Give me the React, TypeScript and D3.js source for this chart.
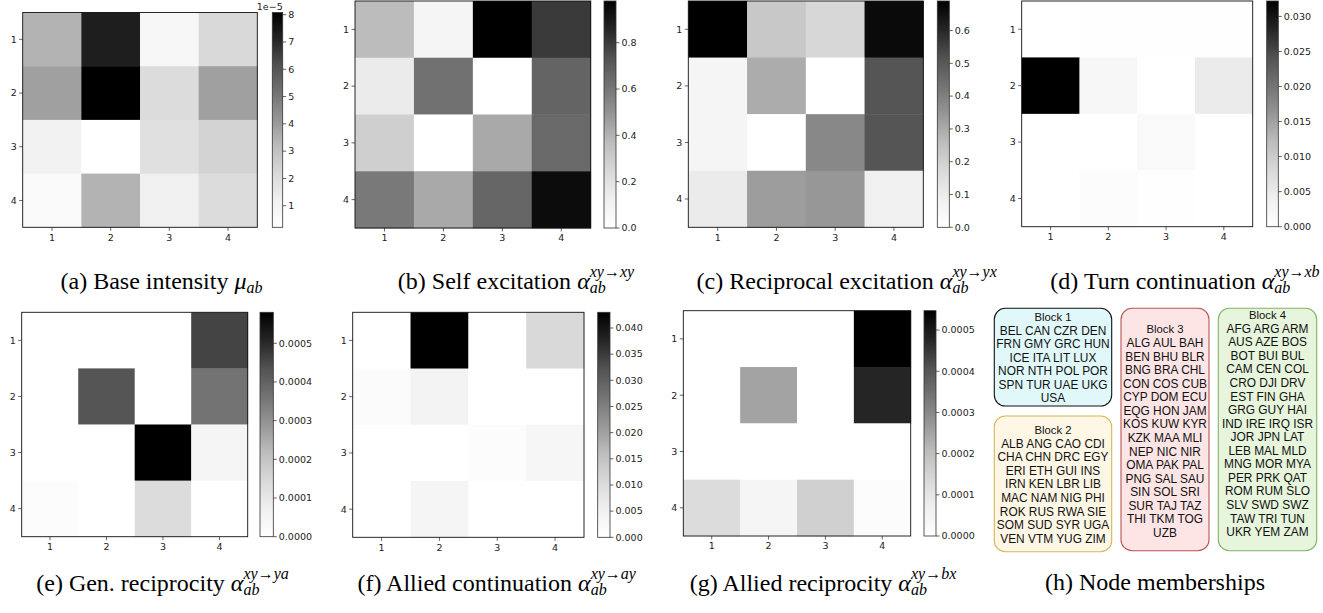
import * as d3 from 'd3'

// block labels on both axes
const rowLabels = ['1', '2', '3', '4']
const colLabels = ['1', '2', '3', '4']

// (a) base intensity mu_ab
const baseIntensity = [
  [3.41e-5, 7.29e-5, 0.74e-5, 2.18e-5],
  [3.89e-5, 8.08e-5, 2.05e-5, 3.89e-5],
  [1.06e-5, 0.21e-5, 1.88e-5, 2.39e-5],
  [0.6e-5, 3.41e-5, 1.19e-5, 2.05e-5],
]
const baseTicks = [1e-5, 2e-5, 3e-5, 4e-5, 5e-5, 6e-5, 7e-5, 8e-5]

// (b) self excitation
const selfExcitation = [
  [0.37, 0.08, 0.98, 0.8],
  [0.15, 0.62, 0.0, 0.67],
  [0.29, 0.0, 0.43, 0.65],
  [0.59, 0.43, 0.66, 0.94],
]
const selfTicks = [0, 0.2, 0.4, 0.6, 0.8]

// (c) reciprocal excitation
const reciprocalExcitation = [
  [0.69, 0.225, 0.18, 0.667],
  [0.057, 0.297, 0.0, 0.51],
  [0.057, 0.0, 0.38, 0.51],
  [0.105, 0.33, 0.343, 0.086],
]
const reciprocalTicks = [0, 0.1, 0.2, 0.3, 0.4, 0.5, 0.6]

// (d) turn continuation
const turnContinuation = [
  [0.0, 0.0003, 0.0002, 0.0002],
  [0.0322, 0.0021, 0.0, 0.0049],
  [0.0, 0.0, 0.0016, 0.0],
  [0.0, 0.0008, 0.0002, 0.0],
]
const turnTicks = [0, 0.005, 0.01, 0.015, 0.02, 0.025, 0.03]

// (e) generalized reciprocity
const genReciprocity = [
  [0.0, 0.0, 0.0, 0.000458],
  [0.0, 0.000429, 0.0, 0.000363],
  [0.0, 0.0, 0.00058, 0.000048],
  [0.0000145, 0.0, 0.000136, 0.0],
]
const genTicks = [0, 0.0001, 0.0002, 0.0003, 0.0004, 0.0005]

// (f) allied continuation
const alliedContinuation = [
  [0.0, 0.043, 0.0, 0.01075],
  [0.0014, 0.0043, 0.0, 0.0],
  [0.0, 0.0, 0.0011, 0.0032],
  [0.0, 0.0036, 0.0, 0.0],
]
const alliedContTicks = [0, 0.005, 0.01, 0.015, 0.02, 0.025, 0.03, 0.035, 0.04]

// (g) allied reciprocity
const alliedReciprocity = [
  [0.0, 0.0, 0.0, 0.000547],
  [0.0, 0.00025, 0.0, 0.000479],
  [0.0, 0.0, 0.0, 0.0],
  [0.000128, 0.0000454, 0.000159, 0.0000137],
]
const alliedRecTicks = [0, 0.0001, 0.0002, 0.0003, 0.0004, 0.0005]

// (h) node memberships
const block1 = ['BEL CAN CZR DEN', 'FRN GMY GRC HUN', 'ICE ITA LIT LUX', 'NOR NTH POL POR', 'SPN TUR UAE UKG', 'USA']
const block2 = ['ALB ANG CAO CDI', 'CHA CHN DRC EGY', 'ERI ETH GUI INS', 'IRN KEN LBR LIB', 'MAC NAM NIG PHI', 'ROK RUS RWA SIE', 'SOM SUD SYR UGA', 'VEN VTM YUG ZIM']
const block3 = ['ALG AUL BAH', 'BEN BHU BLR', 'BNG BRA CHL', 'CON COS CUB', 'CYP DOM ECU', 'EQG HON JAM', 'KOS KUW KYR', 'KZK MAA MLI', 'NEP NIC NIR', 'OMA PAK PAL', 'PNG SAL SAU', 'SIN SOL SRI', 'SUR TAJ TAZ', 'THI TKM TOG', 'UZB']
const block4 = ['AFG ARG ARM', 'AUS AZE BOS', 'BOT BUI BUL', 'CAM CEN COL', 'CRO DJI DRV', 'EST FIN GHA', 'GRG GUY HAI', 'IND IRE IRQ ISR', 'JOR JPN LAT', 'LEB MAL MLD', 'MNG MOR MYA', 'PER PRK QAT', 'ROM RUM SLO', 'SLV SWD SWZ', 'TAW TRI TUN', 'UKR YEM ZAM']

// matplotlib "Greys"
const greysRamp = ['#ffffff', '#f0f0f0', '#d9d9d9', '#bdbdbd', '#969696', '#737373', '#525252', '#252525', '#000000']
const greys = d3.scaleLinear<string>()
  .domain(d3.range(9).map(i => i / 8))
  .range(greysRamp)
  .interpolate(d3.interpolateRgb)

const tickFont = "'DejaVu Sans', sans-serif"
const captionFont = "'Liberation Serif', 'Times New Roman', serif"

interface HeatmapProps {
  id: string
  values: number[][]
  ticks: number[]
  format: (v: number) => string
  x0: number
  x1: number
  y0: number
  y1: number
  cb0: number
  cb1: number
  offsetText?: string
}

function Heatmap({ id, values, ticks, format, x0, x1, y0, y1, cb0, cb1, offsetText }: HeatmapProps) {
  const x = d3.scaleBand().domain(colLabels).range([x0, x1])
  const y = d3.scaleBand().domain(rowLabels).range([y0, y1])
  const ext = d3.extent(values.flat()) as [number, number]
  const norm = d3.scaleLinear().domain(ext).range([0, 1]).clamp(true)
  const cbY = d3.scaleLinear().domain(ext).range([y1, y0])

  return (
    <g>
      <defs>
        <linearGradient id={`grad-${id}`} x1="0" y1="1" x2="0" y2="0">
          {greysRamp.map((c, i) => (
            <stop key={i} offset={i / 8} stopColor={c} />
          ))}
        </linearGradient>
      </defs>
      {values.map((row, r) =>
        row.map((v, c) => (
          <rect
            key={`${r}-${c}`}
            x={x(colLabels[c])}
            y={y(rowLabels[r])}
            width={x.bandwidth() + 0.4}
            height={y.bandwidth() + 0.4}
            fill={greys(norm(v))}
          />
        ))
      )}
      <rect x={x0} y={y0} width={x1 - x0} height={y1 - y0} fill="none" stroke="#111" strokeWidth={0.9} />
      {rowLabels.map(l => {
        const cy = (y(l) as number) + y.bandwidth() / 2
        return (
          <g key={`r${l}`}>
            <line x1={x0 - 3.5} x2={x0} y1={cy} y2={cy} stroke="#222" strokeWidth={0.7} />
            <text x={x0 - 6} y={cy} dy="0.35em" textAnchor="end" fontFamily={tickFont} fontSize={9.5} fill="#222">{l}</text>
          </g>
        )
      })}
      {colLabels.map(l => {
        const cx = (x(l) as number) + x.bandwidth() / 2
        return (
          <g key={`c${l}`}>
            <line x1={cx} x2={cx} y1={y1} y2={y1 + 3.5} stroke="#222" strokeWidth={0.7} />
            <text x={cx} y={y1 + 13.4} textAnchor="middle" fontFamily={tickFont} fontSize={9.5} fill="#222">{l}</text>
          </g>
        )
      })}
      <rect x={cb0} y={y0} width={cb1 - cb0} height={y1 - y0} fill={`url(#grad-${id})`} stroke="#333" strokeWidth={0.8} />
      {ticks.map(t => (
        <g key={`t${t}`}>
          <line x1={cb1} x2={cb1 + 3.5} y1={cbY(t)} y2={cbY(t)} stroke="#222" strokeWidth={0.7} />
          <text x={cb1 + 5.5} y={cbY(t)} dy="0.35em" fontFamily={tickFont} fontSize={9.5} fill="#222">{format(t)}</text>
        </g>
      ))}
      {offsetText && (
        <text x={cb1} y={y0 - 3} textAnchor="end" fontFamily={tickFont} fontSize={9.5} fill="#222">{offsetText}</text>
      )}
    </g>
  )
}

interface CaptionProps {
  x: number
  y: number
  label: string
  sym?: string
  sup?: string
}

function Caption({ x, y, label, sym, sup }: CaptionProps) {
  return (
    <text x={x} y={y} textAnchor="middle" fontFamily={captionFont} fontSize={24} fill="#000">
      {label}
      {sym && <tspan fontStyle="italic" fontSize={24}>{sym}</tspan>}
      {sym && <tspan fontStyle="italic" fontSize={16} dy={4}>ab</tspan>}
      {sup && <tspan fontStyle="italic" fontSize={16} dx={-16} dy={-16}>{sup}</tspan>}
    </text>
  )
}

interface BlockProps {
  title: string
  lines: string[]
  x: number
  y: number
  w: number
  h: number
  firstY: number
  fill: string
  stroke: string
}

function Block({ title, lines, x, y, w, h, firstY, fill, stroke }: BlockProps) {
  const all = [title, ...lines]
  return (
    <g>
      <rect x={x} y={y} width={w} height={h} rx={11} ry={11} fill={fill} stroke={stroke} strokeWidth={1.1} />
      {all.map((l, i) => (
        <text
          key={i}
          x={x + w / 2}
          y={firstY + i * 13.55}
          dy="0.36em"
          textAnchor="middle"
          fontFamily="'Liberation Sans', Arial, sans-serif"
          fontSize={i === 0 ? 11.3 : 11.9}
          fill="#111"
        >
          {l}
        </text>
      ))}
    </g>
  )
}

const f0 = (v: number) => d3.format('.0f')(v / 1e-5)
const f1 = d3.format('.1f')
const f3 = d3.format('.3f')
const f4 = d3.format('.4f')

export default function App() {
  return (
    <svg
      width={1323}
      height={613}
      style={{ position: 'absolute', left: 0, top: 0, background: '#fff' }}
    >
      <rect width={1323} height={613} fill="#fff" />
      <Heatmap id="a" values={baseIntensity} ticks={baseTicks} format={f0} x0={22.7} x1={257.3} y0={12.5} y1={227.3} cb0={272.3} cb1={282.7} offsetText="1e−5" />
      <Heatmap id="b" values={selfExcitation} ticks={selfTicks} format={f1} x0={355} x1={590.7} y0={1} y1={228} cb0={604} cb1={616} />
      <Heatmap id="c" values={reciprocalExcitation} ticks={reciprocalTicks} format={f1} x0={688.3} x1={923.3} y0={1} y1={227.3} cb0={937.3} cb1={949.3} />
      <Heatmap id="d" values={turnContinuation} ticks={turnTicks} format={f3} x0={1021.7} x1={1252.7} y0={1} y1={226.7} cb0={1266.7} cb1={1278.3} />
      <Heatmap id="e" values={genReciprocity} ticks={genTicks} format={f4} x0={21.7} x1={247.7} y0={312.3} y1={536.7} cb0={260} cb1={273.3} />
      <Heatmap id="f" values={alliedContinuation} ticks={alliedContTicks} format={f3} x0={352.7} x1={584} y0={312.3} y1={537.3} cb0={597.7} cb1={610} />
      <Heatmap id="g" values={alliedReciprocity} ticks={alliedRecTicks} format={f4} x0={683.3} x1={910.7} y0={310.7} y1={536} cb0={924} cb1={936} />

      <Block title="Block 1" lines={block1} x={994.3} y={308.3} w={117.4} h={97.7} firstY={316.7} fill="#e1f8fa" stroke="#111" />
      <Block title="Block 2" lines={block2} x={994.3} y={416} w={117.4} h={135.7} firstY={430} fill="#fff7e6" stroke="#d6b656" />
      <Block title="Block 3" lines={block3} x={1121} y={308.3} w={88} h={242.4} firstY={329.3} fill="#fde5e5" stroke="#b85450" />
      <Block title="Block 4" lines={block4} x={1218.3} y={308.3} w={98.4} h={242.4} firstY={315} fill="#e6f5dc" stroke="#82b366" />

      <Caption x={161.5} y={289} label="(a) Base intensity " sym="μ" />
      <Caption x={516} y={289} label="(b) Self excitation " sym="α" sup="xy→xy" />
      <Caption x={846.7} y={289} label="(c) Reciprocal excitation " sym="α" sup="xy→yx" />
      <Caption x={1185} y={289} label="(d) Turn continuation " sym="α" sup="xy→xb" />
      <Caption x={162.5} y={591} label="(e) Gen. reciprocity " sym="α" sup="xy→ya" />
      <Caption x={496.7} y={591} label="(f) Allied continuation " sym="α" sup="xy→ay" />
      <Caption x={823} y={591} label="(g) Allied reciprocity " sym="α" sup="xy→bx" />
      <Caption x={1155} y={590} label="(h) Node memberships" />
    </svg>
  )
}
